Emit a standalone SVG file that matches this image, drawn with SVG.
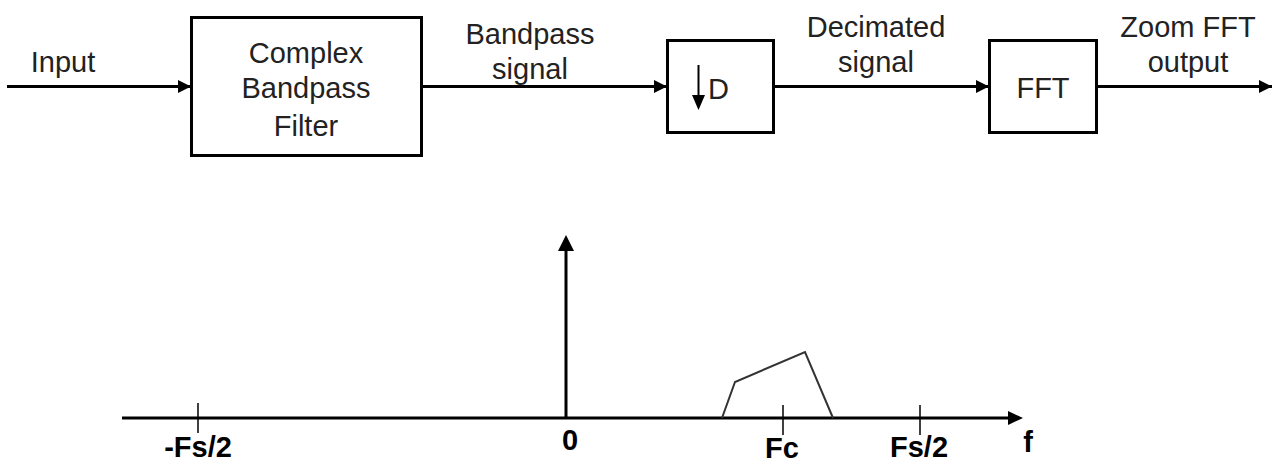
<svg xmlns="http://www.w3.org/2000/svg" width="1272" height="464" viewBox="0 0 1272 464">
<defs>
<style>
.lbl{font-family:"Liberation Sans",Arial,sans-serif;font-size:29px;fill:#222;text-anchor:middle}
.ax{font-family:"Liberation Sans",Arial,sans-serif;font-size:29px;font-weight:bold;fill:#000;text-anchor:middle}
.box{fill:#fff;stroke:#000;stroke-width:3}
.ln{stroke:#000;stroke-width:3;fill:none}
.tick{stroke:#000;stroke-width:1.5;fill:none}
</style>
<marker id="ah" viewBox="0 0 13 13" refX="13" refY="6.5" markerWidth="13" markerHeight="13" markerUnits="userSpaceOnUse" orient="auto">
<path d="M0,0 L13,6.5 L0,13 Z" fill="#000"/>
</marker>
</defs>
<rect width="1272" height="464" fill="#fff"/>
<g id="connectors">
<line class="ln" x1="7" y1="86.5" x2="191" y2="86.5" marker-end="url(#ah)"/>
<line class="ln" x1="422" y1="86.5" x2="667" y2="86.5" marker-end="url(#ah)"/>
<line class="ln" x1="774" y1="86.5" x2="989" y2="86.5" marker-end="url(#ah)"/>
<line class="ln" x1="1097" y1="86.5" x2="1272" y2="86.5" marker-end="url(#ah)"/>
</g>
<g id="labels">
<text class="lbl" x="63" y="72">Input</text>
<text class="lbl" x="530" y="44">Bandpass</text>
<text class="lbl" x="530" y="79">signal</text>
<text class="lbl" x="876" y="37">Decimated</text>
<text class="lbl" x="876" y="72">signal</text>
<text class="lbl" x="1188" y="37">Zoom FFT</text>
<text class="lbl" x="1188" y="72">output</text>
</g>
<g id="filter">
<rect class="box" x="191.5" y="17.5" width="230" height="138"/>
<text class="lbl" x="306" y="63">Complex</text>
<text class="lbl" x="306" y="98">Bandpass</text>
<text class="lbl" x="306" y="136">Filter</text>
</g>
<g id="decimator">
<rect class="box" x="667.5" y="40.5" width="106" height="92"/>
<line x1="698.5" y1="65" x2="698.5" y2="97" stroke="#000" stroke-width="2"/>
<path d="M692,95 L705,95 L698.5,110 Z" fill="#000"/>
<text class="lbl" x="708" y="99" style="text-anchor:start">D</text>
</g>
<g id="fft">
<rect class="box" x="989.5" y="40.5" width="107" height="92"/>
<text class="lbl" x="1043" y="98">FFT</text>
</g>
<g id="spectrum">
<line class="ln" x1="122" y1="418" x2="1010" y2="418"/>
<path d="M1008,411 L1023,418 L1008,425 Z" fill="#000"/>
<line class="ln" x1="566" y1="418" x2="566" y2="249"/>
<path d="M558,251 L574,251 L566,235 Z" fill="#000"/>
<line class="tick" x1="198" y1="403" x2="198" y2="433"/>
<line class="tick" x1="783" y1="405" x2="783" y2="435"/>
<line class="tick" x1="920" y1="405" x2="920" y2="435"/>
<polyline points="722,418 735,382 805,352 833,418" fill="none" stroke="#333" stroke-width="2"/>
<text class="ax" x="198" y="457">-Fs/2</text>
<text class="ax" x="570" y="450">0</text>
<text class="ax" x="782" y="458">Fc</text>
<text class="ax" x="919" y="457">Fs/2</text>
<text class="ax" x="1028" y="452">f</text>
</g>
</svg>
